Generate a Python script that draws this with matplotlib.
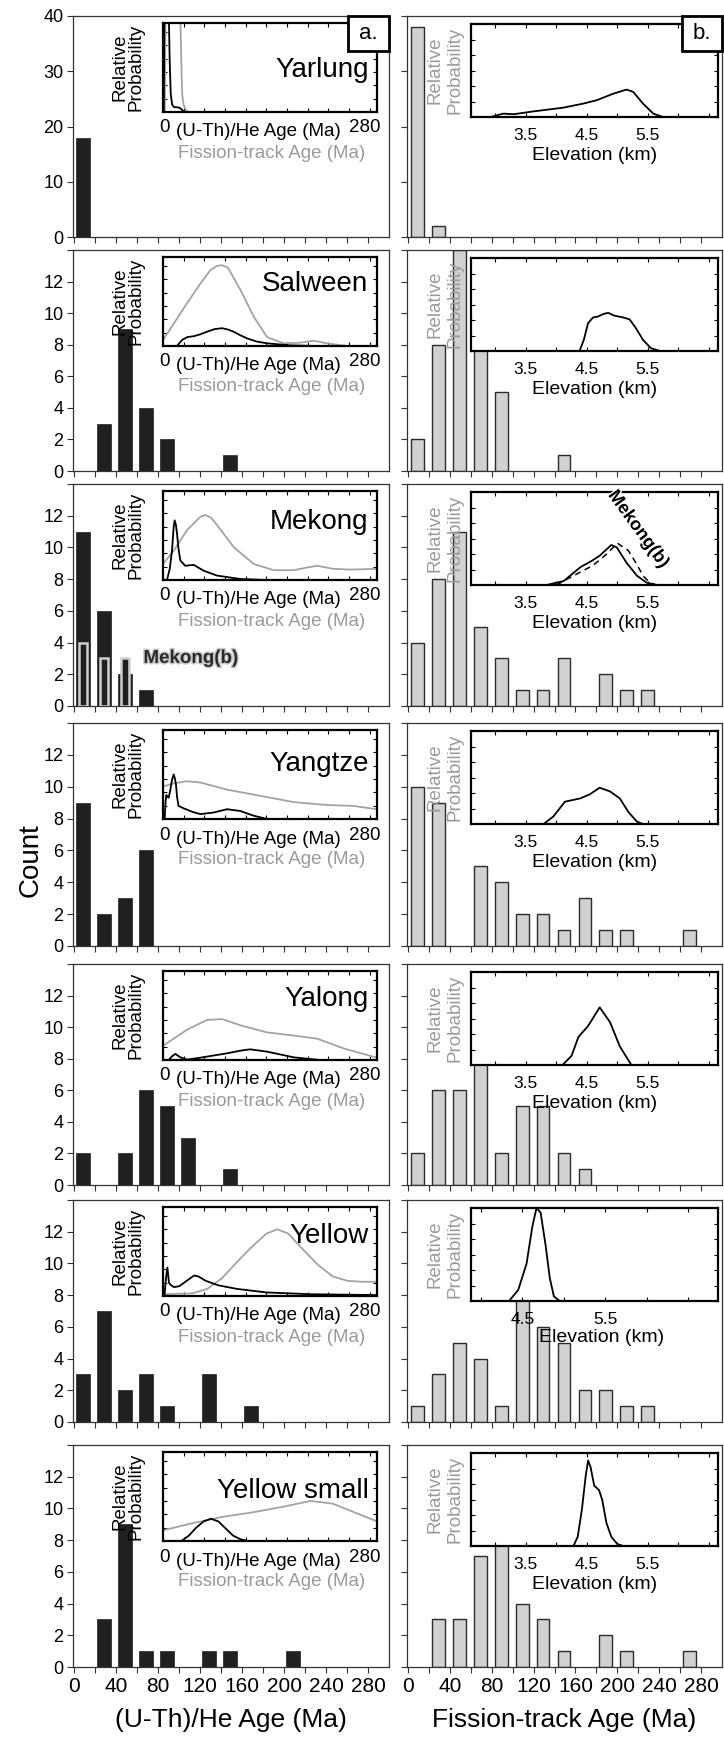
import numpy as np
import matplotlib
matplotlib.use('Agg')
import matplotlib.pyplot as plt
from matplotlib.patches import Rectangle
import matplotlib.patheffects as pe

plt.rcParams['font.family'] = ['Liberation Sans', 'DejaVu Sans']

# ---------------- data ----------------
rivers = ['Yarlung', 'Salween', 'Mekong', 'Yangtze', 'Yalong', 'Yellow', 'Yellow small']
bin_start = [0, 20, 40, 60, 80, 100, 120, 140, 160, 180, 200, 220, 240, 260]

# (U-Th)/He counts per 20 Ma bin
he_yarlung = [18]
he_salween = [0, 3, 9, 4, 2, 0, 0, 1]
he_mekong = [11, 6, 2, 1]
he_mekong_b = [4, 3, 3]
he_yangtze = [9, 2, 3, 6]
he_yalong = [2, 0, 2, 6, 5, 3, 0, 1]
he_yellow = [3, 7, 2, 3, 1, 0, 3, 0, 1]
he_yellow_small = [0, 3, 9, 1, 1, 0, 1, 1, 0, 0, 1]

# Fission-track counts per 20 Ma bin
ft_yarlung = [38, 2]
ft_salween = [2, 8, 14, 10, 5, 0, 0, 1]
ft_mekong = [4, 8, 11, 5, 3, 1, 1, 3, 0, 2, 1, 1]
ft_yangtze = [10, 9, 0, 5, 4, 2, 2, 1, 3, 1, 1, 0, 0, 1]
ft_yalong = [2, 6, 6, 8, 2, 5, 5, 2, 1]
ft_yellow = [1, 3, 5, 4, 1, 8, 6, 5, 2, 2, 1, 1]
ft_yellow_small = [0, 3, 3, 7, 9, 4, 3, 1, 0, 2, 1, 0, 0, 1]

# Relative probability curves (age in Ma, relative height)
hep_yarlung_x = [1, 1.5, 2, 6, 8, 9, 10.5, 12.5, 15, 22, 25, 29]
hep_yarlung_y = [0, 0.6, 1.2, 1.2, 1.05, 0.6, 0.2, 0.08, 0.055, 0.05, 0.03, 0]
ftp_yarlung_x = [2.5, 3, 3.5, 20, 23.5, 25, 26, 28, 31, 35]
ftp_yarlung_y = [0, 0.6, 1.2, 1.2, 1.05, 0.5, 0.2, 0.08, 0.02, 0]

hep_salween_x = [19, 25.7, 33, 41.6, 50, 59.6, 70, 80, 88, 95.8, 105, 113.8, 127, 141, 172.5, 208.7]
hep_salween_y = [0, 0.067, 0.1, 0.11, 0.13, 0.16, 0.19, 0.2, 0.185, 0.16, 0.12, 0.086, 0.05, 0.03, 0.007, 0]
ftp_salween_x = [0, 14.5, 32.5, 50.6, 64, 73, 80, 88, 105, 123, 141, 163.5, 186, 204, 222, 249, 290]
ftp_salween_y = [0.067, 0.25, 0.48, 0.70, 0.85, 0.9, 0.907, 0.88, 0.63, 0.33, 0.10, 0.03, 0.037, 0.06, 0.03, 0.0, 0.0]

hep_mekong_x = [5.4, 9, 12.2, 14.5, 15.8, 17.5, 19, 21, 23.5, 30, 41.6, 55, 73, 105, 141]
hep_mekong_y = [0, 0.12, 0.33, 0.6, 0.67, 0.62, 0.52, 0.35, 0.22, 0.16, 0.17, 0.105, 0.05, 0.011, 0]
ftp_mekong_x = [0, 14.5, 32.5, 50.6, 57.4, 65, 73, 95.8, 123, 150, 177, 195, 208.7, 231, 254, 290]
ftp_mekong_y = [0.18, 0.33, 0.56, 0.71, 0.73, 0.7, 0.62, 0.37, 0.18, 0.11, 0.11, 0.14, 0.16, 0.125, 0.117, 0.125]

hep_yangtze_x = [2.3, 3.5, 4.5, 6, 7.7, 10, 12.2, 14.5, 16, 17.6, 19, 21, 28, 40, 50.6, 68.7, 86.7, 104.8, 122.9, 141]
hep_yangtze_y = [0, 0.2, 0.27, 0.25, 0.24, 0.33, 0.44, 0.5, 0.46, 0.385, 0.25, 0.147, 0.12, 0.08, 0.055, 0.073, 0.11, 0.09, 0.037, 0]
ftp_yangtze_x = [0, 14.5, 32.5, 50.6, 86.7, 132, 177, 222, 258, 290]
ftp_yangtze_y = [0.366, 0.40, 0.425, 0.41, 0.33, 0.26, 0.19, 0.157, 0.147, 0.11]

hep_yalong_x = [7.7, 12, 16.7, 20, 23.5, 32.5, 50.6, 86.7, 105, 118, 141, 177, 213]
hep_yalong_y = [0, 0.04, 0.068, 0.05, 0.03, 0.005, 0.026, 0.075, 0.105, 0.12, 0.094, 0.03, 0]
ftp_yalong_x = [0, 32.5, 59.6, 80, 104.8, 141, 177, 208.7, 244.8, 290]
ftp_yalong_y = [0.16, 0.34, 0.45, 0.46, 0.39, 0.31, 0.275, 0.24, 0.13, 0.026]

hep_yellow_x = [2, 4, 6, 8, 11, 15, 22, 32, 42, 48, 58, 75, 100, 140, 200, 290]
hep_yellow_y = [0, 0.2, 0.32, 0.15, 0.12, 0.1, 0.11, 0.17, 0.23, 0.22, 0.17, 0.12, 0.08, 0.04, 0.02, 0.01]
ftp_yellow_x = [0, 40, 60, 80, 100, 120, 140, 155, 170, 190, 210, 230, 250, 270, 290]
ftp_yellow_y = [0.02, 0.03, 0.08, 0.2, 0.38, 0.55, 0.7, 0.75, 0.7, 0.52, 0.35, 0.22, 0.17, 0.16, 0.16]

hep_yellow_small_x = [25, 35, 45, 55, 65, 75, 85, 95, 105, 115]
hep_yellow_small_y = [0, 0.06, 0.15, 0.22, 0.25, 0.22, 0.14, 0.06, 0.02, 0]
ftp_yellow_small_x = [0, 40, 80, 120, 160, 200, 230, 260, 290]
ftp_yellow_small_y = [0.12, 0.2, 0.27, 0.32, 0.38, 0.45, 0.42, 0.32, 0.22]

# Elevation probability curves (km, relative height)
el_yarlung_x = [2.92, 3.13, 3.3, 3.62, 4.11, 4.44, 4.66, 4.93, 5.15, 5.26, 5.42, 5.59, 5.75, 6.65]
el_yarlung_y = [0, 0.036, 0.03, 0.06, 0.1, 0.144, 0.18, 0.25, 0.295, 0.27, 0.144, 0.036, 0, 0]
el_salween_x = [4.38, 4.45, 4.52, 4.6, 4.68, 4.78, 4.85, 4.95, 5.1, 5.2, 5.3, 5.42, 5.55, 5.7]
el_salween_y = [0, 0.12, 0.3, 0.36, 0.37, 0.4, 0.41, 0.38, 0.36, 0.34, 0.25, 0.12, 0.03, 0]
el_mekong_x = [3.84, 4.12, 4.39, 4.58, 4.71, 4.9, 4.99, 5.15, 5.32, 5.48, 5.64]
el_mekong_y = [0, 0.043, 0.19, 0.26, 0.315, 0.43, 0.405, 0.24, 0.1, 0.025, 0]
el_mekong_b_x = [4.0, 4.28, 4.6, 4.82, 5.0, 5.18, 5.32, 5.42, 5.53, 5.64]
el_mekong_b_y = [0, 0.1, 0.21, 0.33, 0.45, 0.37, 0.22, 0.1, 0.025, 0]
el_yangtze_x = [3.79, 3.95, 4.14, 4.39, 4.55, 4.71, 4.88, 5.04, 5.18, 5.32, 5.42]
el_yangtze_y = [0, 0.08, 0.24, 0.275, 0.32, 0.39, 0.35, 0.275, 0.13, 0.025, 0]
el_yalong_x = [4.1, 4.25, 4.36, 4.52, 4.71, 4.88, 5.04, 5.23]
el_yalong_y = [0, 0.1, 0.3, 0.42, 0.62, 0.46, 0.2, 0]
el_yellow_x = [4.34, 4.45, 4.55, 4.62, 4.67, 4.72, 4.78, 4.83, 4.88, 4.95]
el_yellow_y = [0, 0.12, 0.4, 0.8, 1.0, 0.95, 0.6, 0.25, 0.05, 0]
el_yellow_small_x = [4.28, 4.35, 4.42, 4.48, 4.52, 4.56, 4.62, 4.7, 4.75, 4.82, 4.9, 5.0, 5.1]
el_yellow_small_y = [0, 0.1, 0.4, 0.75, 0.92, 0.85, 0.65, 0.6, 0.5, 0.25, 0.1, 0.02, 0]

he_counts = [he_yarlung, he_salween, he_mekong, he_yangtze, he_yalong, he_yellow, he_yellow_small]
ft_counts = [ft_yarlung, ft_salween, ft_mekong, ft_yangtze, ft_yalong, ft_yellow, ft_yellow_small]
he_curves = [(hep_yarlung_x, hep_yarlung_y), (hep_salween_x, hep_salween_y), (hep_mekong_x, hep_mekong_y),
             (hep_yangtze_x, hep_yangtze_y), (hep_yalong_x, hep_yalong_y), (hep_yellow_x, hep_yellow_y),
             (hep_yellow_small_x, hep_yellow_small_y)]
ft_curves = [(ftp_yarlung_x, ftp_yarlung_y), (ftp_salween_x, ftp_salween_y), (ftp_mekong_x, ftp_mekong_y),
             (ftp_yangtze_x, ftp_yangtze_y), (ftp_yalong_x, ftp_yalong_y), (ftp_yellow_x, ftp_yellow_y),
             (ftp_yellow_small_x, ftp_yellow_small_y)]
el_curves = [(el_yarlung_x, el_yarlung_y), (el_salween_x, el_salween_y), (el_mekong_x, el_mekong_y),
             (el_yangtze_x, el_yangtze_y), (el_yalong_x, el_yalong_y), (el_yellow_x, el_yellow_y),
             (el_yellow_small_x, el_yellow_small_y)]

# ---------------- layout ----------------
W, H = 724, 1739
fig = plt.figure(figsize=(W / 100, H / 100), dpi=100)

def add_px(x0, y0, x1, y1):
    return fig.add_axes([x0 / W, 1 - y1 / H, (x1 - x0) / W, (y1 - y0) / H])

rows = [(16, 237), (250, 471), (484, 706), (723, 946), (964, 1185), (1200, 1422), (1445, 1667)]
LX0, LX1 = 73, 389
RX0, RX1 = 407, 722
el_xlims = [(2.6, 6.65)] * 5 + [(3.88, 6.86), (2.6, 6.65)]
name_frac = [0.53, 0.30, 0.35, 0.38, 0.32, 0.33, 0.44]

BLACK_BAR = '#221f1f'
GRAY_BAR = '#d3d0d0'
GRAY_TXT = '#9a9a9a'
GRAY_LINE = '#a3a3a3'
SPINE = '#333333'

def style_main(ax, ymax, last):
    ax.set_xlim(-1, 300)
    ax.set_ylim(0, ymax)
    ax.set_xticks(range(0, 300, 20))
    if last:
        ax.set_xticklabels([str(v) if v % 40 == 0 else '' for v in range(0, 300, 20)], fontsize=15)
    else:
        ax.set_xticklabels([])
    ax.tick_params(direction='out', length=4, width=0.8, color=SPINE, top=False, right=False, pad=3)
    for s in ax.spines.values():
        s.set_color(SPINE)
        s.set_linewidth(0.9)

for i, (top, bot) in enumerate(rows):
    last = i == len(rows) - 1
    ymax = 40 if i == 0 else 14
    # ---------- left panel ----------
    axl = add_px(LX0, top, LX1, bot)
    he = np.array(he_counts[i], dtype=float)
    xs = np.array(bin_start[:len(he)]) + 8.5
    m = he > 0
    axl.bar(xs[m], he[m], width=12.8, color=BLACK_BAR, edgecolor=BLACK_BAR, linewidth=0.5, zorder=2)
    if i == 2:
        hb = np.array(he_mekong_b, dtype=float)
        axl.bar(np.array(bin_start[:len(hb)]) + 8.5, hb, width=7.5, color=BLACK_BAR,
                edgecolor='#cfcfcf', linewidth=1.8, zorder=3)
        axl.text(111, 3.0, 'Mekong(b)', fontsize=13.5, fontweight='bold', color='#2a2a2a',
                 ha='center', va='center', zorder=4,
                 path_effects=[pe.withStroke(linewidth=2.2, foreground='#c8c8c8')])
    style_main(axl, ymax, last)
    if i == 0:
        axl.set_yticks([0, 10, 20, 30, 40])
        axl.set_yticklabels(['0', '10', '20', '30', '40'], fontsize=13)
    else:
        axl.set_yticks(range(0, 15, 2))
        axl.set_yticklabels([str(v) if v < 14 else '' for v in range(0, 15, 2)], fontsize=13)
    if last:
        axl.set_xlabel('(U-Th)/He Age (Ma)', fontsize=19, labelpad=9)

    # ---------- right panel ----------
    axr = add_px(RX0, top, RX1, bot)
    ft = np.array(ft_counts[i], dtype=float)
    xs = np.array(bin_start[:len(ft)]) + 9
    m = ft > 0
    axr.bar(xs[m], ft[m], width=12.2, color=GRAY_BAR, edgecolor='#2b2b2b', linewidth=1.0, zorder=2)
    style_main(axr, ymax, last)
    if i == 0:
        axr.set_yticks([0, 10, 20, 30, 40])
    else:
        axr.set_yticks(range(0, 15, 2))
    axr.set_yticklabels([])
    if last:
        axr.set_xlabel('Fission-track Age (Ma)', fontsize=19, labelpad=9)

    # ---------- left inset ----------
    ix0, ix1 = 163, 377
    iy0, iy1 = top + 7, top + 96
    iw, ih = ix1 - ix0, iy1 - iy0
    ins = add_px(ix0, iy0, ix1, iy1)
    fx, fy = ft_curves[i]
    hx, hy = he_curves[i]
    ins.plot(fx, fy, color=GRAY_LINE, lw=1.3)
    ins.plot(hx, hy, color='black', lw=1.3)
    ins.set_xlim(0, 290)
    ins.set_ylim(0, 1)
    ins.set_xticks(np.arange(0, 290, 28))
    ins.set_yticks(np.arange(0.15, 1.0, 0.15))
    ins.tick_params(direction='in', length=3, width=0.8, top=True, right=True,
                    labelbottom=False, labelleft=False)
    for s in ins.spines.values():
        s.set_linewidth(1.6)
        s.set_color('black')
    ins.text(0.96, 1 - name_frac[i], rivers[i], transform=ins.transAxes, fontsize=20,
             ha='right', va='center')
    ins.text((128 - ix0) / iw, 0.5, 'Relative\nProbability', transform=ins.transAxes, fontsize=13.5,
             rotation=90, ha='center', va='center', linespacing=1.0)
    ins.text((165 - ix0) / iw, -16 / ih, '0', transform=ins.transAxes, fontsize=13.5, ha='center', va='center')
    ins.text((258 - ix0) / iw, -20 / ih, '(U-Th)/He Age (Ma)', transform=ins.transAxes, fontsize=13.5,
             ha='center', va='center')
    ins.text((365 - ix0) / iw, -16 / ih, '280', transform=ins.transAxes, fontsize=13.5, ha='center', va='center')
    ins.text((272 - ix0) / iw, -41 / ih, 'Fission-track Age (Ma)', transform=ins.transAxes, fontsize=13.5,
             ha='center', va='center', color=GRAY_TXT)

    # ---------- right inset ----------
    jx0, jx1 = 471, 718
    jy0, jy1 = top + 8, top + 101
    jw, jh = jx1 - jx0, jy1 - jy0
    ins2 = add_px(jx0, jy0, jx1, jy1)
    ex, ey = el_curves[i]
    ins2.plot(ex, ey, color='black', lw=1.3)
    if i == 2:
        ins2.plot(el_mekong_b_x, el_mekong_b_y, color='black', lw=1.1, ls=(0, (4, 3)))
        ins2.text(5.34, 0.6, 'Mekong(b)', fontsize=13, fontweight='bold', rotation=-54,
                  ha='center', va='center', color='black', clip_on=False,
                  path_effects=[pe.withStroke(linewidth=2, foreground='white')])
    lo, hi = el_xlims[i]
    ins2.set_xlim(lo, hi)
    ins2.set_ylim(0, 1)
    maj = [v for v in (3.5, 4.5, 5.5) if lo < v < hi]
    ins2.set_xticks(maj)
    ins2.set_xticklabels([f'{v:.1f}' for v in maj], fontsize=12.5)
    ins2.set_xticks([v for v in np.arange(3.0, 7.0, 0.5) if lo < v < hi and v not in maj], minor=True)
    ins2.set_yticks(np.arange(1 / 6, 0.99, 1 / 6))
    ins2.tick_params(which='both', direction='in', length=3, width=0.8, top=True, right=True,
                     labelleft=False, pad=8)
    for s in ins2.spines.values():
        s.set_linewidth(1.6)
        s.set_color('black')
    ins2.set_xlabel('Elevation (km)', fontsize=14, labelpad=3)
    if i == 5:
        ins2.xaxis.set_label_coords((602 - jx0) / jw, -0.3)
    ins2.text((445 - jx0) / jw, 0.5, 'Relative\nProbability', transform=ins2.transAxes, fontsize=13.5,
              rotation=90, ha='center', va='center', linespacing=1.2, color=GRAY_TXT)

# panel letters
for (x0, x1, lab) in [(348, 389, 'a.'), (682, 722, 'b.')]:
    fig.add_artist(Rectangle((x0 / W, 1 - 50.7 / H), (x1 - x0) / W, 34.7 / H, transform=fig.transFigure,
                             facecolor='white', edgecolor='black', linewidth=2, zorder=5))
    fig.text((x0 + x1) / 2 / W, 1 - 33.5 / H, lab, fontsize=16, ha='center', va='center', zorder=6)

fig.text(31 / W, 1 - 860 / H, 'Count', rotation=90, fontsize=20, ha='center', va='center')

fig.savefig('out.png', dpi=100)
